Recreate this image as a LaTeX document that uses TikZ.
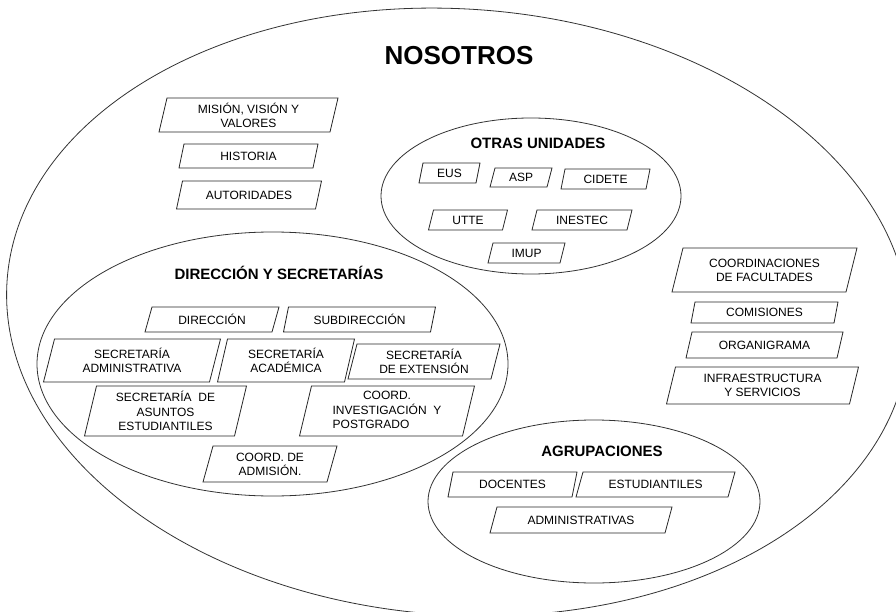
\documentclass[tikz,border=0pt]{standalone}
\usepackage{fontspec}
\setmainfont{Liberation Sans}
\tikzset{
  boxline/.style={draw=black!85, line width=0.8pt, line join=miter},
  boxtext/.style={text=black, font=\fontsize{12}{14.2}\selectfont, align=center, inner sep=0pt},
  ringline/.style={draw=black!80, line width=0.8pt},
  titletext/.style={text=black, font=\bfseries\fontsize{15}{18}\selectfont, inner sep=0pt},
}
% name, cx, cy, width, height, slant, text
\newcommand\pbox[7]{%
  \draw[boxline] ({#2-#4/2+#6/2},{#3-#5/2}) -- ++(#4,0) -- ++({-#6},#5) -- ++({-#4},0) -- cycle;
  \node[boxtext] (#1) at (#2,#3) {#7};}
\begin{document}
\begin{tikzpicture}[x=1pt,y=-1pt]
\useasboundingbox (0,0) rectangle (896,612);
\fill[white] (0,0) rectangle (896,612);
\clip (0,0) rectangle (896,612);

% outer ellipse
\draw[ringline, rotate around={-4:(458,312)}] (458,312) ellipse [x radius=452, y radius=303];
\node[text=black, font=\bfseries\fontsize{26}{30}\selectfont, inner sep=0pt] (nosotros) at (459,56) {NOSOTROS};

% left column
\pbox{mision}{248.5}{115}{171}{34}{8}{MISIÓN, VISIÓN Y\\VALORES}
\pbox{historia}{248.5}{156}{134}{24}{5}{HISTORIA}
\pbox{autoridades}{249}{195}{139}{28}{6}{AUTORIDADES}

% otras unidades
\draw[ringline] (531,196) ellipse [x radius=150, y radius=78];
\node[titletext] (otras) at (538,143) {OTRAS UNIDADES};
\pbox{eus}{449.5}{173}{57}{20}{4}{EUS}
\pbox{asp}{521}{177.5}{57}{19}{5}{ASP}
\pbox{cidete}{605.5}{179}{85}{20}{4}{CIDETE}
\pbox{utte}{468}{220}{74}{20}{5}{UTTE}
\pbox{inestec}{582}{220}{95}{20}{5}{INESTEC}
\pbox{imup}{526.5}{253}{72}{20}{5}{IMUP}

% direccion y secretarias
\draw[ringline] (272.5,364) ellipse [x radius=235.5, y radius=132];
\node[titletext] (dirsec) at (279,273) {DIRECCIÓN Y SECRETARÍAS};
\pbox{direccion}{212}{319.5}{127}{25}{7}{DIRECCIÓN}
\pbox{subdireccion}{359.5}{319.5}{147}{25}{5}{SUBDIRECCIÓN}
\pbox{secadm}{132}{360.5}{166}{43}{11}{SECRETARÍA\\ADMINISTRATIVA}
\pbox{secacad}{286}{360.5}{127}{43}{10}{SECRETARÍA\\ACADÉMICA}
\pbox{secext}{424}{361.5}{143}{35}{9}{SECRETARÍA\\DE EXTENSIÓN}
\pbox{secasuntos}{165.5}{411}{150}{50}{12}{SECRETARÍA\ \ DE\\ASUNTOS\\ESTUDIANTILES}
\pbox{coordinv}{387}{411}{163}{50}{12}{\begin{tabular}{@{}l@{}}\multicolumn{1}{@{}c@{}}{COORD.}\\INVESTIGACIÓN\ \ Y\\POSTGRADO\end{tabular}}
\pbox{coordadm}{270}{464}{124}{36}{10}{COORD.\ DE\\ADMISIÓN.}

% right column
\pbox{coordfac}{764.5}{270}{174}{44}{11}{COORDINACIONES\\DE FACULTADES}
\pbox{comisiones}{764.5}{312.5}{143}{21}{4}{COMISIONES}
\pbox{organigrama}{764.5}{345}{151}{26}{6}{ORGANIGRAMA}
\pbox{infra}{762.5}{385.5}{183}{37}{9}{INFRAESTRUCTURA\\Y SERVICIOS}

% agrupaciones
\draw[ringline] (594,501.5) ellipse [x radius=166, y radius=81.5];
\node[titletext] (agrup) at (602,451) {AGRUPACIONES};
\pbox{docentes}{512.5}{484.5}{124}{25}{5}{DOCENTES}
\pbox{estudiantiles}{655.5}{484.5}{152}{25}{7}{ESTUDIANTILES}
\pbox{administrativas}{581}{520}{175}{26}{7}{ADMINISTRATIVAS}
\end{tikzpicture}
\end{document}
